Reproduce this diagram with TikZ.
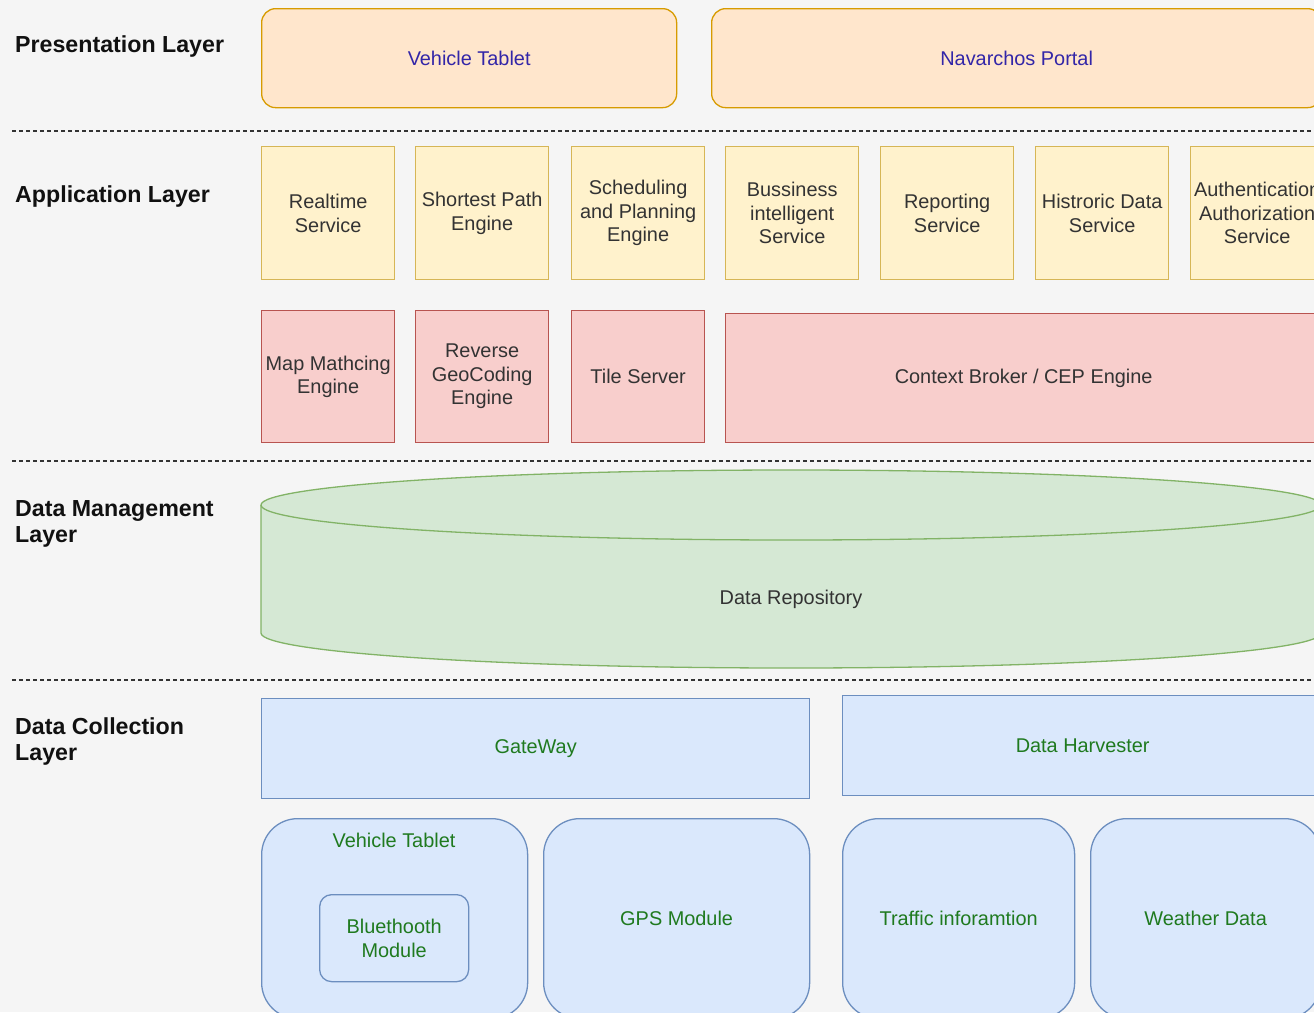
\documentclass[tikz,border=0pt]{standalone}
\usepackage{fontspec}
\setmainfont{Liberation Sans}
\definecolor{bg}{HTML}{F5F5F5}
\definecolor{txt}{HTML}{333333}
\definecolor{lbl}{HTML}{111111}
\definecolor{presfill}{HTML}{FFE6CC}
\definecolor{presdraw}{HTML}{D79B00}
\definecolor{prestxt}{HTML}{3326A8}
\definecolor{appfill}{HTML}{FFF2CC}
\definecolor{appdraw}{HTML}{D6B656}
\definecolor{redfill}{HTML}{F8CECC}
\definecolor{reddraw}{HTML}{B85450}
\definecolor{grnfill}{HTML}{D5E8D4}
\definecolor{grndraw}{HTML}{82B366}
\definecolor{bluefill}{HTML}{DAE8FC}
\definecolor{bluedraw}{HTML}{6C8EBF}
\definecolor{grntxt}{HTML}{1F7A1F}
\definecolor{dashc}{HTML}{333333}
\begin{document}
\begin{tikzpicture}[x=1pt,y=-1pt,
  base/.style={anchor=north west, inner sep=0pt, align=center,
    font=\fontsize{19.9}{23.5}\selectfont, line width=1.3pt, text=txt},
  pres/.style={base, rounded corners=14pt, fill=presfill, draw=presdraw, text=prestxt, minimum height=99pt},
  appbox/.style={base, fill=appfill, draw=appdraw, minimum width=133pt, minimum height=133pt},
  redbox/.style={base, fill=redfill, draw=reddraw, minimum width=133pt, minimum height=132pt},
  bluebox/.style={base, fill=bluefill, draw=bluedraw, text=grntxt, minimum height=100pt},
  bluernd/.style={base, fill=bluefill, draw=bluedraw, text=grntxt, rounded corners=36pt, minimum height=200pt},
  layerlbl/.style={anchor=west, inner sep=0pt, align=left, font=\fontsize{23.2}{26}\selectfont\bfseries, text=lbl},
  sep/.style={draw=dashc, line width=1.2pt, dash pattern=on 4pt off 3pt}
]
\useasboundingbox (0,0) rectangle (1314,1012);
\fill[bg] (0,0) rectangle (1314,1012);
\clip (0,0) rectangle (1314,1012);

% layer labels
\node[layerlbl] (lp) at (15,46) {Presentation Layer};
\node[layerlbl] (la) at (15,196) {Application Layer};
\node[layerlbl] (ld) at (15,524) {Data Management\\Layer};
\node[layerlbl] (lc) at (15,741) {Data Collection\\Layer};

% separators
\coordinate (s1a) at (12,131); \coordinate (s1b) at (1314,131);
\coordinate (s2a) at (12,461); \coordinate (s2b) at (1314,461);
\coordinate (s3a) at (12,680); \coordinate (s3b) at (1314,680);
\draw[sep] (s1a) -- (s1b);
\draw[sep] (s2a) -- (s2b);
\draw[sep] (s3a) -- (s3b);

% presentation
\node[pres, minimum width=415pt] (vt) at (261,8) {Vehicle Tablet};
\node[pres, minimum width=610pt] (np) at (711,8) {Navarchos Portal};

% application row 1
\node[appbox] (rt) at (261,146) {Realtime\\Service};
\node[appbox] (sp) at (415,146) {Shortest Path\\Engine};
\node[appbox] (sc) at (571,146) {Scheduling\\and Planning\\Engine};
\node[appbox] (bi) at (725,146) {Bussiness\\intelligent\\Service};
\node[appbox] (rp) at (880,146) {Reporting\\Service};
\node[appbox] (hd) at (1035,146) {Histroric Data\\Service};
\node[appbox] (au) at (1190,146) {Authentication\\Authorization\\Service};

% application row 2
\node[redbox] (mm) at (261,310) {Map Mathcing\\Engine};
\node[redbox] (rg) at (415,310) {Reverse\\GeoCoding\\Engine};
\node[redbox] (ts) at (571,310) {Tile Server};
\node[redbox, minimum width=596pt, minimum height=129pt] (cb) at (725,313) {Context Broker / CEP Engine};

% data repository cylinder
\fill[grnfill] (261,505) -- (261,633) arc[start angle=180, end angle=0, x radius=530, y radius=35]
  -- (1321,505) -- cycle;
\fill[grnfill] (791,505) ellipse[x radius=530, y radius=35];
\draw[grndraw, line width=1.3pt] (261,505) -- (261,633) arc[start angle=180, end angle=0, x radius=530, y radius=35] -- (1321,505);
\draw[grndraw, line width=1.3pt] (791,505) ellipse[x radius=530, y radius=35];
\node[base, anchor=center] (dr) at (791,599) {Data Repository};

% data collection
\node[bluebox, minimum width=548pt] (gw) at (261,698) {GateWay};
\node[bluebox, minimum width=480pt] (dh) at (842,695) {Data Harvester};
\node[bluernd, minimum width=266pt] (vt2) at (261,818) {};
\node[base, anchor=center, text=grntxt] (vt2l) at (394,840) {Vehicle Tablet};
\node[base, fill=bluefill, draw=bluedraw, text=grntxt, rounded corners=12pt, minimum width=149pt, minimum height=87pt] (bt) at (319,894) {Bluethooth\\Module};
\node[bluernd, minimum width=266pt] (gps) at (543,818) {GPS Module};
\node[bluernd, minimum width=232pt] (tr) at (842,818) {Traffic inforamtion};
\node[bluernd, minimum width=230pt] (wd) at (1090,818) {Weather Data};
\end{tikzpicture}
\end{document}
